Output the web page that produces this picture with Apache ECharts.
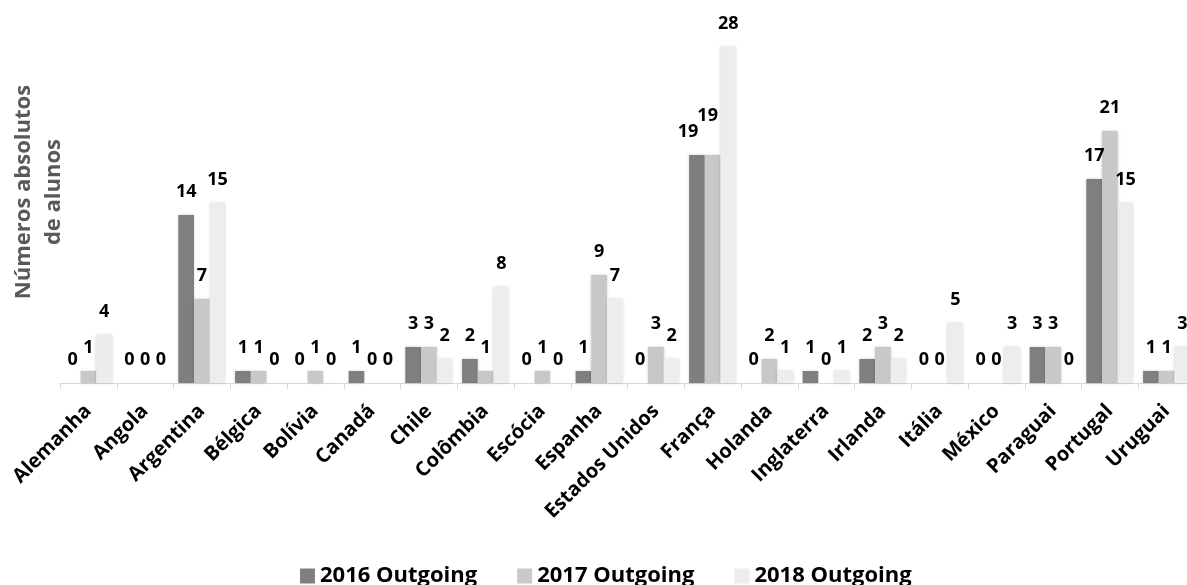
<!DOCTYPE html>
<html>
<head>
<meta charset="utf-8">
<script src="https://cdn.jsdelivr.net/npm/echarts@6/dist/echarts.min.js"></script>
<style>
  html, body { margin: 0; padding: 0; background: #ffffff; }
  #chart { width: 1187px; height: 585px; }
</style>
</head>
<body>
<div id="chart"></div>
<script>
// Outgoing students per destination country
const countries = ['Alemanha', 'Angola', 'Argentina', 'Bélgica', 'Bolívia', 'Canadá', 'Chile', 'Colômbia',
  'Escócia', 'Espanha', 'Estados Unidos', 'França', 'Holanda', 'Inglaterra', 'Irlanda', 'Itália',
  'México', 'Paraguai', 'Portugal', 'Uruguai'];
const outgoing2016 = [0, 0, 14, 1, 0, 1, 3, 2, 0, 1, 0, 19, 0, 1, 2, 0, 0, 3, 17, 1];
const outgoing2017 = [1, 0, 7, 1, 1, 0, 3, 1, 1, 9, 3, 19, 2, 0, 3, 0, 0, 3, 21, 1];
const outgoing2018 = [4, 0, 15, 0, 0, 0, 2, 8, 0, 7, 2, 28, 1, 1, 2, 5, 3, 0, 15, 3];
const seriesNames = ['2016 Outgoing', '2017 Outgoing', '2018 Outgoing'];

const FONT = '"Open Sans", "Noto Sans", sans-serif';
const colors = ['#7f7f7f', '#c8c8c8', '#ededed'];

// Labels nudged aside where neighbouring values collide (series index -> category -> offset)
const labelNudge = {
  0: { 'França': [-9, 0] },
  1: { 'França': [-5, -16] }
};

function buildData(values, si) {
  return values.map((v, i) => {
    const nudge = labelNudge[si] && labelNudge[si][countries[i]];
    return nudge ? { value: v, label: { offset: nudge } } : v;
  });
}

const chart = echarts.init(document.getElementById('chart'));
chart.setOption({
  animation: false,
  textStyle: { fontFamily: FONT },
  grid: { left: 60, right: -8, top: 23, bottom: 202, containLabel: false, outerBoundsMode: 'none' },
  legend: {
    data: seriesNames,
    top: 560,
    left: 295,
    itemWidth: 15,
    itemHeight: 15,
    itemGap: 40,
    icon: 'rect',
    textStyle: { fontFamily: FONT, fontWeight: 'bold', fontSize: 22, color: '#000' }
  },
  xAxis: {
    type: 'category',
    data: countries,
    axisLine: { lineStyle: { color: '#d9d9d9', width: 1 } },
    axisTick: { show: true, length: 6, lineStyle: { color: '#d9d9d9' } },
    axisLabel: {
      rotate: 45,
      interval: 0,
      margin: 25,
      fontFamily: FONT,
      fontWeight: 'bold',
      fontSize: 20,
      color: '#000'
    }
  },
  yAxis: {
    type: 'value',
    min: 0,
    max: 30,
    axisLine: { show: false },
    axisTick: { show: false },
    axisLabel: { show: false },
    splitLine: { show: false },
    name: 'Números absolutos\nde alunos',
    nameLocation: 'middle',
    nameRotate: 90,
    nameGap: -9,
    nameTextStyle: {
      fontFamily: FONT,
      fontWeight: 'bold',
      fontSize: 22,
      color: '#595959',
      lineHeight: 30,
      align: 'center',
      padding: [0, 0, 0, 22]
    }
  },
  series: [outgoing2016, outgoing2017, outgoing2018].map((vals, si) => ({
    name: seriesNames[si],
    type: 'bar',
    data: buildData(vals, si),
    barGap: '0%',
    barCategoryGap: '17%',
    itemStyle: {
      color: colors[si],
      shadowBlur: 3,
      shadowColor: 'rgba(0,0,0,0.18)'
    },
    label: {
      show: true,
      position: 'top',
      distance: 14,
      fontFamily: FONT,
      fontWeight: 'bold',
      fontSize: 18,
      color: '#000'
    }
  }))
});
</script>
</body>
</html>
